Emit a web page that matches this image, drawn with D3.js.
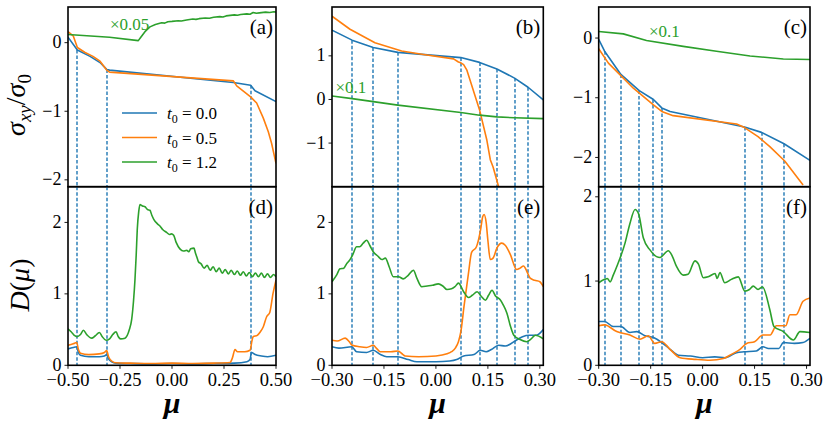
<!DOCTYPE html>
<html>
<head>
<meta charset="utf-8">
<script src="https://cdn.jsdelivr.net/npm/d3@7"></script>
<style>
body { margin: 0; background: #fff; }
</style>
</head>
<body>
<svg></svg>
<script>
const width = 831;
const height = 421;

const blue = "#1f77b4", orange = "#ff7f0e", green = "#2ca02c";

// ---- data: [mu, value] ----
// panel (a): sigma_xy / sigma_0  (green is x0.05)
const aBlue = [[-0.5,0.08],[-0.455,-0.106],[-0.394,-0.20],[-0.346,-0.29],[-0.314,-0.39],[-0.30,-0.40],[0.295,-0.58],[0.378,-0.62],[0.399,-0.70],[0.5,-0.86]];
const aOrange = [[-0.5,0.16],[-0.475,0.10],[-0.455,-0.07],[-0.42,-0.14],[-0.38,-0.20],[-0.346,-0.27],[-0.314,-0.40],[-0.30,-0.43],[0.295,-0.557],[0.311,-0.63],[0.378,-0.79],[0.407,-0.88],[0.439,-1.10],[0.463,-1.30],[0.479,-1.47],[0.5,-1.76]];
const aGreen = [[-0.5,0.12],[-0.3,0.08],[-0.162,0.03],[-0.15,0.08],[-0.13,0.16],[-0.106,0.23],[-0.08,0.265],[-0.05,0.29],[-0.035,0.285],[-0.02,0.305],[0.0,0.31],[0.03,0.32],[0.045,0.315],[0.07,0.33],[0.10,0.345],[0.115,0.34],[0.13,0.35],[0.16,0.36],[0.18,0.355],[0.2,0.37],[0.23,0.38],[0.245,0.375],[0.26,0.39],[0.3,0.405],[0.315,0.40],[0.33,0.41],[0.36,0.42],[0.375,0.415],[0.39,0.44],[0.405,0.43],[0.42,0.435],[0.45,0.445],[0.47,0.44],[0.49,0.45],[0.5,0.445]];

// panel (b)  (green is x0.1)
const bBlue = [[-0.3,1.59],[-0.242,1.36],[-0.181,1.19],[-0.110,1.08],[0.072,0.96],[0.126,0.85],[0.176,0.70],[0.227,0.49],[0.266,0.28],[0.31,-0.01]];
const bOrange = [[-0.3,1.91],[-0.248,1.61],[-0.176,1.30],[-0.099,1.11],[-0.036,1.03],[0.051,0.93],[0.065,0.86],[0.072,0.84],[0.08,0.80],[0.089,0.68],[0.126,-0.24],[0.147,-0.93],[0.157,-1.38],[0.165,-1.55],[0.181,-2.0]];
const bGreen = [[-0.3,0.08],[-0.242,0.02],[-0.181,-0.05],[-0.110,-0.13],[0.072,-0.30],[0.126,-0.36],[0.176,-0.40],[0.227,-0.42],[0.31,-0.44]];

// panel (c)  (green is x0.1)
const cBlue = [[-0.3,-0.02],[-0.283,-0.22],[-0.236,-0.61],[-0.183,-0.88],[-0.142,-1.03],[-0.118,-1.17],[-0.094,-1.23],[0.121,-1.49],[0.170,-1.58],[0.235,-1.77],[0.31,-2.05]];
const cOrange = [[-0.3,-0.18],[-0.272,-0.42],[-0.236,-0.63],[-0.2,-0.84],[-0.142,-1.12],[-0.118,-1.23],[-0.085,-1.30],[0.098,-1.44],[0.121,-1.50],[0.16,-1.65],[0.194,-1.82],[0.237,-2.06],[0.29,-2.46]];
const cGreen = [[-0.3,0.11],[-0.229,0.07],[-0.162,-0.04],[-0.056,-0.14],[0.04,-0.22],[0.137,-0.30],[0.233,-0.35],[0.31,-0.36]];

// panel (d): D(mu)
const dBlue = [[-0.5,0.23],[-0.475,0.25],[-0.458,0.26],[-0.45,0.18],[-0.44,0.14],[-0.40,0.12],[-0.35,0.12],[-0.325,0.13],[-0.314,0.15],[-0.305,0.09],[-0.29,0.05],[-0.27,0.03],[-0.2,0.025],[-0.1,0.02],[0,0.025],[0.1,0.02],[0.2,0.025],[0.30,0.03],[0.36,0.05],[0.375,0.08],[0.382,0.18],[0.40,0.15],[0.43,0.13],[0.46,0.12],[0.5,0.14]];
const dOrange = [[-0.5,0.28],[-0.475,0.30],[-0.458,0.32],[-0.45,0.22],[-0.44,0.17],[-0.40,0.15],[-0.35,0.16],[-0.325,0.18],[-0.314,0.205],[-0.305,0.12],[-0.29,0.06],[-0.27,0.035],[-0.2,0.03],[-0.1,0.025],[0,0.03],[0.1,0.025],[0.2,0.03],[0.279,0.04],[0.29,0.10],[0.303,0.22],[0.315,0.19],[0.35,0.19],[0.375,0.21],[0.385,0.35],[0.39,0.40],[0.41,0.42],[0.425,0.47],[0.439,0.54],[0.455,0.68],[0.47,0.74],[0.486,1.01],[0.5,1.19]];
const dGreen = [[-0.5,0.51],[-0.485,0.47],[-0.47,0.42],[-0.458,0.40],[-0.44,0.43],[-0.426,0.49],[-0.41,0.43],[-0.386,0.38],[-0.37,0.41],[-0.349,0.46],[-0.335,0.40],[-0.317,0.35],[-0.30,0.37],[-0.285,0.43],[-0.269,0.47],[-0.258,0.40],[-0.247,0.37],[-0.226,0.38],[-0.205,0.50],[-0.194,0.64],[-0.185,0.90],[-0.178,1.20],[-0.172,1.55],[-0.167,1.90],[-0.160,2.15],[-0.154,2.25],[-0.142,2.23],[-0.130,2.22],[-0.118,2.18],[-0.106,2.17],[-0.097,2.10],[-0.087,2.04],[-0.07,1.98],[-0.058,1.95],[-0.045,1.90],[-0.026,1.86],[-0.012,1.83],[-0.003,1.84],[0.008,1.82],[0.02,1.72],[0.038,1.63],[0.055,1.60],[0.071,1.61],[0.08,1.59],[0.09,1.63],[0.106,1.64],[0.112,1.58],[0.119,1.52],[0.127,1.45],[0.140,1.42],[0.1545,1.36],[0.169,1.40],[0.1835,1.33],[0.198,1.38],[0.2125,1.31],[0.227,1.36],[0.2415,1.29],[0.256,1.34],[0.2705,1.28],[0.285,1.33],[0.2995,1.27],[0.314,1.32],[0.3285,1.26],[0.343,1.31],[0.3575,1.25],[0.372,1.30],[0.3865,1.24],[0.401,1.29],[0.4155,1.24],[0.430,1.29],[0.4445,1.23],[0.459,1.28],[0.4735,1.23],[0.488,1.27],[0.5,1.24]];

// panel (e)
const eBlue = [[-0.3,0.26],[-0.28,0.24],[-0.243,0.26],[-0.229,0.19],[-0.2,0.18],[-0.181,0.21],[-0.16,0.15],[-0.142,0.12],[-0.11,0.12],[-0.08,0.08],[-0.055,0.05],[0.0,0.05],[0.04,0.06],[0.06,0.08],[0.08,0.13],[0.11,0.15],[0.128,0.21],[0.145,0.19],[0.16,0.22],[0.181,0.28],[0.2,0.27],[0.233,0.355],[0.25,0.40],[0.27,0.42],[0.29,0.42],[0.31,0.50]];
const eOrange = [[-0.3,0.35],[-0.285,0.34],[-0.262,0.38],[-0.25,0.33],[-0.243,0.285],[-0.22,0.26],[-0.2,0.25],[-0.181,0.28],[-0.17,0.23],[-0.161,0.19],[-0.13,0.19],[-0.11,0.20],[-0.095,0.15],[-0.089,0.13],[-0.05,0.12],[0.0,0.13],[0.032,0.16],[0.045,0.19],[0.056,0.24],[0.065,0.33],[0.072,0.47],[0.081,0.82],[0.094,1.29],[0.103,1.58],[0.117,1.66],[0.129,1.90],[0.135,2.08],[0.139,2.11],[0.145,2.0],[0.15,1.75],[0.157,1.48],[0.165,1.50],[0.176,1.64],[0.19,1.71],[0.2,1.68],[0.215,1.55],[0.233,1.34],[0.243,1.36],[0.253,1.39],[0.262,1.32],[0.272,1.22],[0.285,1.19],[0.3,1.17],[0.31,1.10]];
const eGreen = [[-0.3,1.17],[-0.286,1.27],[-0.277,1.35],[-0.266,1.36],[-0.258,1.42],[-0.248,1.48],[-0.24,1.55],[-0.229,1.66],[-0.22,1.66],[-0.21,1.71],[-0.2,1.75],[-0.19,1.67],[-0.181,1.59],[-0.168,1.53],[-0.156,1.48],[-0.146,1.50],[-0.135,1.38],[-0.123,1.24],[-0.108,1.24],[-0.094,1.21],[-0.08,1.26],[-0.065,1.33],[-0.055,1.22],[-0.041,1.10],[-0.025,1.11],[-0.01,1.12],[0.007,1.14],[0.02,1.11],[0.032,1.06],[0.045,1.07],[0.055,1.10],[0.065,1.15],[0.08,1.03],[0.094,0.95],[0.105,0.98],[0.119,1.03],[0.13,0.97],[0.143,0.91],[0.152,0.98],[0.162,1.05],[0.172,0.97],[0.185,0.92],[0.195,0.84],[0.205,0.73],[0.215,0.55],[0.225,0.42],[0.243,0.36],[0.262,0.33],[0.275,0.37],[0.287,0.42],[0.31,0.37]];

// panel (f)
const fBlue = [[-0.3,0.52],[-0.283,0.52],[-0.258,0.46],[-0.236,0.46],[-0.21,0.39],[-0.19,0.40],[-0.166,0.35],[-0.142,0.33],[-0.118,0.27],[-0.094,0.19],[-0.07,0.12],[-0.035,0.11],[0.0,0.09],[0.035,0.10],[0.065,0.09],[0.098,0.15],[0.12,0.16],[0.155,0.17],[0.174,0.22],[0.19,0.20],[0.22,0.20],[0.233,0.27],[0.265,0.26],[0.29,0.27],[0.31,0.32]];
const fOrange = [[-0.3,0.47],[-0.283,0.48],[-0.248,0.40],[-0.21,0.36],[-0.181,0.31],[-0.157,0.35],[-0.138,0.26],[-0.118,0.28],[-0.094,0.19],[-0.065,0.09],[-0.02,0.07],[0.021,0.06],[0.06,0.08],[0.083,0.13],[0.108,0.19],[0.127,0.26],[0.15,0.28],[0.174,0.36],[0.195,0.36],[0.213,0.47],[0.24,0.47],[0.252,0.60],[0.27,0.60],[0.29,0.76],[0.31,0.80]];
const fGreen = [[-0.3,0.98],[-0.283,1.02],[-0.275,1.03],[-0.267,0.99],[-0.258,1.07],[-0.248,1.17],[-0.224,1.45],[-0.21,1.68],[-0.195,1.85],[-0.185,1.80],[-0.171,1.51],[-0.152,1.37],[-0.133,1.29],[-0.123,1.28],[-0.099,1.36],[-0.088,1.30],[-0.075,1.17],[-0.056,1.07],[-0.042,1.08],[-0.022,1.24],[-0.012,1.20],[0.002,1.04],[0.016,1.05],[0.036,1.09],[0.042,1.03],[0.05,1.10],[0.064,0.98],[0.083,1.02],[0.103,1.05],[0.122,0.88],[0.135,0.90],[0.146,0.94],[0.16,0.90],[0.173,0.93],[0.194,0.66],[0.206,0.46],[0.233,0.40],[0.262,0.30],[0.281,0.40],[0.31,0.39]];

// positions of the dashed guide lines (mu)
const dashA = [-0.455, -0.314, 0.378];
const dashB = [-0.242, -0.181, -0.110, 0.072, 0.126, 0.176, 0.227, 0.266];
const dashC = [-0.283, -0.236, -0.183, -0.142, -0.118, 0.121, 0.170, 0.235];

// tick labels
const xTicksWide = [-0.5, -0.25, 0, 0.25, 0.5];
const xTicksNarrow = [-0.3, -0.15, 0, 0.15, 0.3];
const legendLabels = ["0.0", "0.5", "1.2"];

const serif = "'Liberation Serif', 'Times New Roman', 'DejaVu Serif', serif";

let svg = d3.select("svg")
    .attr("width", width)
    .attr("height", height)
    .attr("font-family", serif);

const fmt2 = d3.format(".2f");
const fmtInt = d3.format("d");

const cols = [
    {x0: 68, x1: 276, xdom: [-0.5, 0.5], xticks: xTicksWide},
    {x0: 332, x1: 543.3, xdom: [-0.3, 0.31], xticks: xTicksNarrow},
    {x0: 598.7, x1: 810, xdom: [-0.3, 0.31], xticks: xTicksNarrow}
];
const rowTop = [7, 186.7];
const rowBot = [186.7, 365.3];

const panels = [
    {col: 0, row: rowTop, ydom: [-2.1, 0.52], yticks: [-2, -1, 0], series: [aBlue, aOrange, aGreen], label: "(a)", dash: dashA},
    {col: 1, row: rowTop, ydom: [-2.0, 2.12], yticks: [-1, 0, 1], series: [bBlue, bOrange, bGreen], label: "(b)", dash: dashB},
    {col: 2, row: rowTop, ydom: [-2.49, 0.52], yticks: [-2, -1, 0], series: [cBlue, cOrange, cGreen], label: "(c)", dash: dashC},
    {col: 0, row: rowBot, ydom: [0, 2.5], yticks: [0, 1, 2], series: [dBlue, dOrange, dGreen], label: "(d)", dash: dashA, bottom: true},
    {col: 1, row: rowBot, ydom: [0, 2.5], yticks: [0, 1, 2], series: [eBlue, eOrange, eGreen], label: "(e)", dash: dashB, bottom: true},
    {col: 2, row: rowBot, ydom: [0, 2.12], yticks: [0, 1, 2], series: [fBlue, fOrange, fGreen], label: "(f)", dash: dashC, bottom: true}
];

const colors = [blue, orange, green];

// value of a series at mu (linear between neighbouring points)
function valueAt(series, m) {
    const i = d3.bisector(d => d[0]).left(series, m);
    if (i <= 0) return series[0][1];
    if (i >= series.length) return series[series.length - 1][1];
    const [xa, ya] = series[i - 1], [xb, yb] = series[i];
    return ya + (yb - ya) * (m - xa) / (xb - xa);
}

const defs = svg.append("defs");

panels.forEach((p, k) => {
    const c = cols[p.col];
    const sx = d3.scaleLinear().domain(c.xdom).range([c.x0, c.x1]);
    const sy = d3.scaleLinear().domain(p.ydom).range([p.row[1], p.row[0]]);
    p.sx = sx; p.sy = sy;

    defs.append("clipPath").attr("id", "clip" + k)
        .append("rect")
        .attr("x", c.x0).attr("y", p.row[0])
        .attr("width", c.x1 - c.x0).attr("height", p.row[1] - p.row[0]);

    const g = svg.append("g").attr("clip-path", `url(#clip${k})`);

    // dashed guides: in the top row they start at the t0=0 curve
    const topSeries = panels[p.col].series[0];
    g.selectAll("line.guide")
        .data(p.dash)
        .enter()
        .append("line")
        .attr("class", "guide")
        .attr("x1", d => Math.round(sx(d))).attr("x2", d => Math.round(sx(d)))
        .attr("y1", d => p.bottom ? p.row[0] : sy(valueAt(topSeries, d)))
        .attr("y2", p.row[1])
        .attr("stroke", blue)
        .attr("stroke-width", 1.4)
        .attr("stroke-dasharray", "3.5,2");

    const line = d3.line()
        .x(d => sx(d[0])).y(d => sy(d[1]))
        .curve(p.bottom ? d3.curveMonotoneX : d3.curveLinear);
    p.series.forEach((s, i) => {
        g.append("path")
            .datum(s)
            .attr("d", line)
            .attr("fill", "none")
            .attr("stroke", colors[i])
            .attr("stroke-width", 1.6)
            .attr("stroke-linejoin", "round");
    });

    // y ticks
    const yt = svg.append("g");
    yt.selectAll("line")
        .data(p.yticks)
        .enter()
        .append("line")
        .attr("x1", c.x0 - 3.5).attr("x2", c.x0)
        .attr("y1", d => sy(d)).attr("y2", d => sy(d))
        .attr("stroke", "#000").attr("stroke-width", 0.9);
    yt.selectAll("text")
        .data(p.yticks)
        .enter()
        .append("text")
        .attr("x", c.x0 - 6.5)
        .attr("y", d => sy(d))
        .attr("dy", "0.31em")
        .attr("text-anchor", "end")
        .attr("font-size", 18)
        .text(d => fmtInt(d));

    // x ticks only on the bottom row
    if (p.bottom) {
        const xt = svg.append("g");
        xt.selectAll("line")
            .data(c.xticks)
            .enter()
            .append("line")
            .attr("x1", d => sx(d)).attr("x2", d => sx(d))
            .attr("y1", p.row[1]).attr("y2", p.row[1] + 3.5)
            .attr("stroke", "#000").attr("stroke-width", 0.9);
        xt.selectAll("text")
            .data(c.xticks)
            .enter()
            .append("text")
            .attr("x", d => sx(d))
            .attr("y", p.row[1] + 20.5)
            .attr("text-anchor", "middle")
            .attr("font-size", 18.5)
            .text(d => fmt2(d));

        svg.append("text")
            .attr("x", (c.x0 + c.x1) / 2)
            .attr("y", 413)
            .attr("text-anchor", "middle")
            .attr("font-size", 30)
            .attr("font-weight", "bold")
            .attr("font-style", "italic")
            .text("μ");
    }

    // frame
    svg.append("rect")
        .attr("x", c.x0).attr("y", p.row[0])
        .attr("width", c.x1 - c.x0).attr("height", p.row[1] - p.row[0])
        .attr("fill", "none")
        .attr("stroke", "#000")
        .attr("stroke-width", 1.6);

    // panel letter
    svg.append("text")
        .attr("x", c.x1 - 3)
        .attr("y", p.row[0] + 27)
        .attr("text-anchor", "end")
        .attr("font-size", 21)
        .text(p.label);
});

// green scale notes
const notes = [
    {panel: 0, mu: -0.298, v: 0.185, text: "×0.05"},
    {panel: 1, mu: -0.29, v: 0.15, text: "×0.1"},
    {panel: 2, mu: -0.155, v: 0.02, text: "×0.1"}
];
notes.forEach(n => {
    const p = panels[n.panel];
    svg.append("text")
        .attr("x", p.sx(n.mu))
        .attr("y", p.sy(n.v))
        .attr("font-size", 17)
        .attr("fill", green)
        .text(n.text);
});

// legend in panel (a)
const legend = svg.append("g");
legendLabels.forEach((lab, i) => {
    const y = 113 + i * 24.5;
    legend.append("line")
        .attr("x1", 122).attr("x2", 157)
        .attr("y1", y).attr("y2", y)
        .attr("stroke", colors[i]).attr("stroke-width", 1.6);
    const t = legend.append("text")
        .attr("x", 167).attr("y", y + 6)
        .attr("font-size", 17);
    t.append("tspan").attr("font-style", "italic").text("t");
    t.append("tspan").attr("font-size", 12).attr("dy", 4).text("0");
    t.append("tspan").attr("dy", -4).text(" = " + lab);
});

// y labels
const yl1 = svg.append("text")
    .attr("transform", "translate(25,105) rotate(-90)")
    .attr("text-anchor", "middle")
    .attr("font-size", 28);
yl1.append("tspan").attr("font-style", "italic").text("σ");
yl1.append("tspan").attr("font-style", "italic").attr("font-size", 19).attr("dy", 6).text("xy");
yl1.append("tspan").attr("dy", -6).text("/");
yl1.append("tspan").attr("font-style", "italic").text("σ");
yl1.append("tspan").attr("font-size", 19).attr("dy", 6).text("0");

const yl2 = svg.append("text")
    .attr("transform", "translate(29,285) rotate(-90)")
    .attr("text-anchor", "middle")
    .attr("font-size", 28);
yl2.append("tspan").attr("font-style", "italic").text("D");
yl2.append("tspan").text("(");
yl2.append("tspan").attr("font-style", "italic").text("μ");
yl2.append("tspan").text(")");
</script>
</body>
</html>
